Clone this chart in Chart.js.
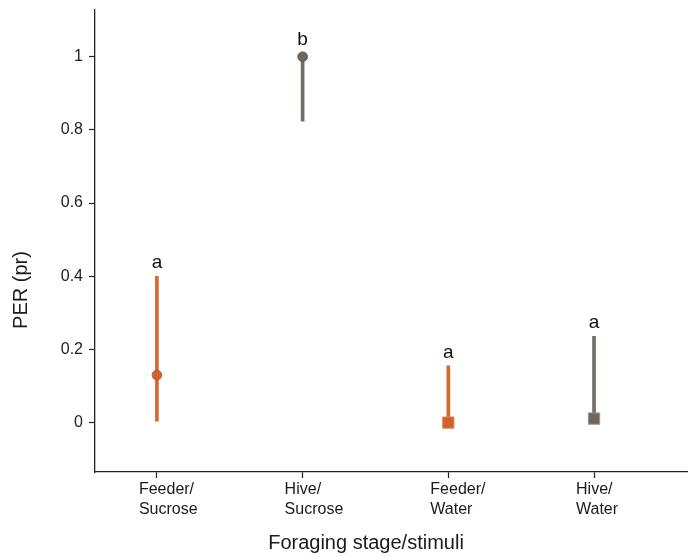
<!DOCTYPE html>
<html>
<head>
<meta charset="utf-8">
<script src="https://cdn.jsdelivr.net/npm/chart.js@4"></script>
<style>
  html, body { margin: 0; padding: 0; background: #fff; }
  #wrap { width: 688px; height: 557px; }
</style>
</head>
<body>
<div id="wrap"><canvas id="c" width="688" height="557"></canvas></div>
<script>
// ---- data ----
const categories = [["Feeder/", "Sucrose"], ["Hive/", "Sucrose"], ["Feeder/", "Water"], ["Hive/", "Water"]];
const perValues = [0.13, 1.0, 0.0, 0.011];
const ciLow = [0.004, 0.824, 0.0, 0.0];
const ciHigh = [0.40, 1.0, 0.155, 0.236];
const sigLetters = ["a", "b", "a", "a"];
const yTicks = [0, 0.2, 0.4, 0.6, 0.8, 1];
const yTitle = "PER (pr)";
const xTitle = "Foraging stage/stimuli";

// ---- styles ----
const ORANGE = "#cf622e";
const GRAY = "#6d6661";
const pointFill = [ORANGE, GRAY, ORANGE, GRAY];
const pointBorder = ["#b9572a", "#5e5753", "#e08a60", "#9a9490"];
const barColors = ["#d36a34", "#736d68", "#d36a34", "#736d68"];
const pointStyles = ["circle", "circle", "rect", "rect"];
const pointRadii = [4.8, 4.8, 8, 8];
const FONT = "'Liberation Sans', Arial, sans-serif";

const xs = categories.map((c, i) => i + 1);

const annot = {
  id: "annot",
  afterDatasetsDraw(chart) {
    const ctx = chart.ctx;
    const xS = chart.scales.x, yS = chart.scales.y;
    ctx.save();
    // significance letters
    ctx.fillStyle = "#111";
    ctx.font = "19px " + FONT;
    ctx.textAlign = "center";
    ctx.textBaseline = "alphabetic";
    xs.forEach((xv, i) => {
      const px = xS.getPixelForValue(xv);
      const top = Math.min(yS.getPixelForValue(ciHigh[i]), yS.getPixelForValue(perValues[i]) - pointRadii[i] * 0.8);
      ctx.fillText(sigLetters[i], px, top - 8);
    });
    // x category labels (left-aligned two-line)
    ctx.font = "16px " + FONT;
    ctx.textAlign = "left";
    ctx.fillStyle = "#1a1a1a";
    const b = chart.chartArea.bottom;
    xs.forEach((xv, i) => {
      const px = xS.getPixelForValue(xv) - 18;
      categories[i].forEach((line, k) => ctx.fillText(line, px, b + 22 + k * 20));
    });
    // x title
    ctx.font = "20px " + FONT;
    ctx.textAlign = "center";
    ctx.fillText(xTitle, 366, 549);
    // y title
    ctx.translate(27, 290);
    ctx.rotate(-Math.PI / 2);
    ctx.font = "20px " + FONT;
    ctx.textAlign = "center";
    ctx.fillText(yTitle, 0, 0);
    ctx.restore();
  }
};

new Chart(document.getElementById("c"), {
  type: "bar",
  data: {
    datasets: [
      {
        type: "scatter",
        order: 0,
        data: xs.map((x, i) => ({ x: x, y: perValues[i] })),
        pointStyle: pointStyles,
        pointRadius: pointRadii,
        pointBackgroundColor: pointFill,
        pointBorderColor: pointBorder,
        pointBorderWidth: 1,
        showLine: false
      },
      {
        type: "bar",
        order: 1,
        data: xs.map((x, i) => ({ x: x, y: [ciLow[i], ciHigh[i]] })),
        backgroundColor: barColors,
        borderWidth: 0,
        barThickness: 3
      }
    ]
  },
  options: {
    responsive: false,
    animation: false,
    layout: { autoPadding: false, padding: { top: 9.5, right: 0, left: 0, bottom: 0 } },
    plugins: { legend: { display: false }, tooltip: { enabled: false } },
    scales: {
      x: {
        type: "linear",
        offset: false,
        min: 0.575,
        max: 4.645,
        afterBuildTicks: (s) => { s.ticks = xs.map(v => ({ value: v })); },
        afterFit: (s) => { s.height = 85; s.paddingLeft = 0; s.paddingRight = 0; },
        ticks: { display: false },
        grid: { offset: false, drawOnChartArea: false, drawTicks: true, tickLength: 6, color: "#222", tickWidth: 1.2 },
        border: { display: true, color: "#222", width: 1.3 }
      },
      y: {
        type: "linear",
        min: -0.135,
        max: 1.129,
        afterBuildTicks: (s) => { s.ticks = yTicks.map(v => ({ value: v })); },
        afterFit: (s) => { s.width = 95; s.paddingTop = 0; s.paddingBottom = 0; },
        ticks: {
          color: "#222",
          padding: 6,
          font: { family: FONT, size: 16 },
          callback: (v) => String(Math.round(v * 10) / 10)
        },
        grid: { drawOnChartArea: false, drawTicks: true, tickLength: 6, color: "#222", tickWidth: 1.2 },
        border: { display: true, color: "#222", width: 1.3 }
      }
    }
  },
  plugins: [annot]
});
</script>
</body>
</html>
